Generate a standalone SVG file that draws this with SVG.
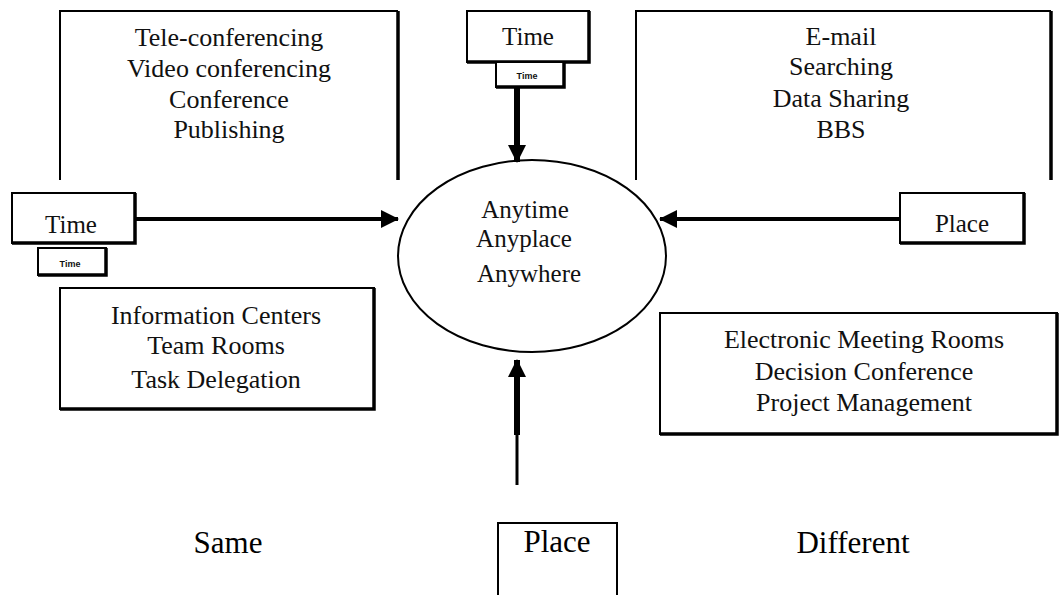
<svg xmlns="http://www.w3.org/2000/svg" width="1061" height="595" viewBox="0 0 1061 595">
  <style>
    .frame { fill: none; stroke: #000; stroke-width: 2; }
    .shade { fill: none; stroke: #000; stroke-width: 3.5; }
    .box { fill: #fff; stroke: #000; stroke-width: 2; }
    .item { font-family: "Liberation Serif", "Times New Roman", serif; font-size: 26px; fill: #111; text-anchor: middle; }
    .hub-text { font-family: "Liberation Serif", "Times New Roman", serif; font-size: 25px; fill: #111; text-anchor: middle; }
    .tag { font-family: "Liberation Serif", "Times New Roman", serif; font-size: 25px; fill: #111; text-anchor: middle; }
    .tiny { font-family: "Liberation Sans", Arial, sans-serif; font-size: 9px; font-weight: bold; fill: #111; text-anchor: middle; }
    .axis { font-family: "Liberation Serif", "Times New Roman", serif; font-size: 31px; fill: #000; text-anchor: middle; }
    .wire { fill: none; stroke: #000; stroke-width: 4; }
    .wire-thin { fill: none; stroke: #000; stroke-width: 3; }
    .wire-heavy { fill: none; stroke: #000; stroke-width: 6; }
  </style>
  <defs>
    <marker id="head" viewBox="0 0 18 18" refX="17" refY="9" markerWidth="18" markerHeight="18" markerUnits="userSpaceOnUse" orient="auto">
      <path d="M0 0 L18 9 L0 18 Z" fill="#000"/>
    </marker>
  </defs>
  <rect width="1061" height="595" fill="#fff"/>

  <!-- same place / different time -->
  <g id="quad-top-left">
    <path class="frame" d="M60 180 V11 H398"/>
    <path class="shade" d="M398 11 V180"/>
    <text class="item" x="229" y="46">Tele-conferencing</text>
    <text class="item" x="229" y="77">Video conferencing</text>
    <text class="item" x="229" y="108">Conference</text>
    <text class="item" x="229" y="138">Publishing</text>
  </g>

  <!-- different place / different time -->
  <g id="quad-top-right">
    <path class="frame" d="M636 180 V11 H1051"/>
    <path class="shade" d="M1051 11 V180"/>
    <text class="item" x="841" y="45">E-mail</text>
    <text class="item" x="841" y="75">Searching</text>
    <text class="item" x="841" y="107">Data Sharing</text>
    <text class="item" x="841" y="138">BBS</text>
  </g>

  <!-- same place / same time -->
  <g id="quad-bottom-left">
    <rect class="box" x="60" y="288" width="314" height="121"/>
    <path class="shade" d="M374 288 V409 H60"/>
    <text class="item" x="216" y="324">Information Centers</text>
    <text class="item" x="216" y="354">Team Rooms</text>
    <text class="item" x="216" y="388">Task Delegation</text>
  </g>

  <!-- different place / same time -->
  <g id="quad-bottom-right">
    <rect class="box" x="660" y="313" width="397" height="121"/>
    <path class="shade" d="M1057 313 V434 H660"/>
    <text class="item" x="864" y="348">Electronic Meeting Rooms</text>
    <text class="item" x="864" y="380">Decision Conference</text>
    <text class="item" x="864" y="411">Project Management</text>
  </g>

  <!-- centre -->
  <g id="hub">
    <ellipse class="frame" cx="532" cy="256" rx="134" ry="96"/>
    <text class="hub-text" x="525" y="218">Anytime</text>
    <text class="hub-text" x="524" y="247">Anyplace</text>
    <text class="hub-text" x="529" y="282">Anywhere</text>
  </g>

  <g id="time-top">
    <rect class="box" x="467" y="11" width="122" height="51"/>
    <path class="shade" d="M589 11 V62 H467"/>
    <text class="tag" x="528" y="45">Time</text>
    <rect class="box" x="496" y="62" width="68" height="25"/>
    <path class="shade" d="M564 62 V87 H496"/>
    <text class="tiny" x="527" y="79">Time</text>
  </g>

  <g id="time-left">
    <rect class="box" x="12" y="193" width="123" height="50"/>
    <path class="shade" d="M135 193 V243 H12"/>
    <text class="tag" x="71" y="233">Time</text>
    <rect class="box" x="38" y="248" width="68" height="27"/>
    <path class="shade" d="M106 248 V275 H38"/>
    <text class="tiny" x="70" y="267">Time</text>
  </g>

  <g id="place-right">
    <rect class="box" x="900" y="193" width="124" height="50"/>
    <path class="shade" d="M1024 193 V243 H900"/>
    <text class="tag" x="962" y="232">Place</text>
  </g>

  <g id="place-bottom">
    <path class="frame" d="M498 595 V523 H617 V595"/>
    <text class="axis" x="557" y="552">Place</text>
  </g>

  <g id="axis-labels">
    <text class="axis" x="228" y="553">Same</text>
    <text class="axis" x="853" y="553">Different</text>
  </g>

  <g id="connectors">
    <line class="wire" x1="135" y1="219" x2="398" y2="219" marker-end="url(#head)"/>
    <line class="wire" x1="900" y1="219" x2="660" y2="219" marker-end="url(#head)"/>
    <line class="wire-heavy" x1="517" y1="87" x2="517" y2="162" marker-end="url(#head)"/>
    <line class="wire-thin" x1="517" y1="485" x2="517" y2="432"/>
    <line class="wire-heavy" x1="517" y1="435" x2="517" y2="360" marker-end="url(#head)"/>
  </g>
</svg>
